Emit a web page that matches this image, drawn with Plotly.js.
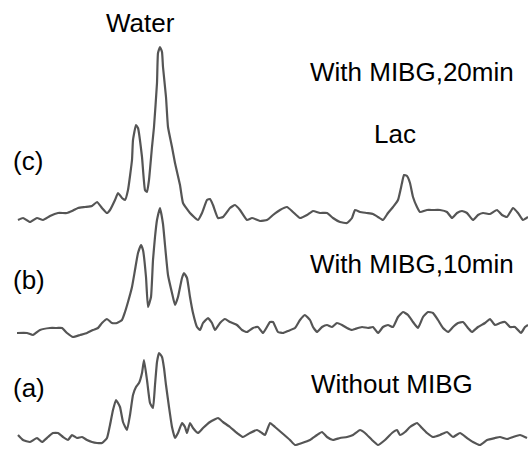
<!DOCTYPE html>
<html>
<head>
<meta charset="utf-8">
<script src="https://cdn.plot.ly/plotly-3.0.1.min.js"></script>
<style>html,body{margin:0;padding:0;background:#fff;}#chart{width:528px;height:450px;}</style>
</head>
<body>
<div id="chart"></div>
<script>
// Spectra: x = horizontal position (a.u.), y = vertical reading (top-down, a.u.)
const xC = [18,23,30,37,43,50,58,67,72,78,85,92,97,102,107,110,115,118,122,125,128,132,133,136,138,142,145,147,149,152,154,157,158,160,162,163,166,168,172,175,180,183,190,198,202,207,210,213,218,223,230,235,240,247,252,260,267,273,280,287,293,300,307,313,320,327,333,340,347,352,355,360,367,373,378,383,388,393,398,402,404,407,410,413,417,420,427,433,440,447,452,457,462,467,473,478,483,490,497,502,507,513,518,523,528];
const yC = [220,218,222,218,220,216,213,213,211,208,207,206,202,208,213,210,200,193,198,200,190,160,140,125,128,157,190,192,180,147,127,83,53,47,52,67,97,127,147,163,185,203,213,220,213,200,199,205,218,217,208,205,210,220,218,221,220,215,210,207,212,218,215,211,213,213,218,222,223,218,210,212,213,214,217,220,213,207,200,183,175,176,183,197,207,212,210,210,210,212,218,213,211,213,220,215,213,214,210,215,217,208,213,220,217];

const xB = [17,27,33,40,50,57,62,67,73,80,87,93,98,102,107,112,117,122,125,128,132,135,138,141,143,146,148,151,153,155,157,160,163,165,168,172,175,178,182,184,187,190,193,197,200,203,208,212,215,220,225,230,237,242,247,253,258,263,270,273,278,283,288,295,300,305,310,313,317,322,327,332,337,342,347,352,355,362,368,373,378,383,388,393,398,403,408,413,418,423,428,433,438,443,448,453,458,463,468,472,478,485,490,495,500,505,510,515,521,525,528];
const yB = [333,333,335,330,328,328,328,333,337,335,333,330,328,323,319,323,323,320,312,302,287,270,253,245,250,277,307,297,260,237,220,208,224,245,275,293,305,297,278,273,278,297,313,327,330,323,318,323,330,323,319,322,325,330,332,328,327,333,322,322,332,333,331,328,320,315,320,327,332,327,325,327,323,325,328,330,329,327,328,327,333,327,325,327,317,312,315,322,328,317,312,313,320,328,332,327,323,322,328,332,327,323,319,325,323,322,327,327,333,327,325];

const xA = [18,23,30,37,42,48,53,58,63,68,72,77,82,87,92,97,102,107,110,113,116,120,123,127,130,133,136,139,142,144,147,150,153,155,157,159,162,164,166,169,172,175,178,182,185,187,190,193,198,203,210,218,223,230,237,243,250,257,262,265,270,275,282,290,295,302,310,317,322,327,333,340,347,353,360,365,372,378,385,392,397,400,405,410,417,422,427,433,440,447,453,460,467,473,480,487,495,500,507,513,520,527];
const yA = [435,440,442,438,442,437,433,433,437,440,435,438,437,440,442,443,443,438,425,410,400,407,422,430,415,395,387,383,373,360,380,403,408,385,362,353,357,368,385,407,427,438,433,423,427,433,423,428,433,428,422,418,422,427,433,437,433,430,433,435,423,427,433,440,445,443,440,435,432,437,440,438,437,435,430,433,440,445,440,433,430,435,432,427,423,428,433,437,435,432,437,433,438,442,445,440,438,437,439,437,435,438];

const lineStyle = {color: '#555555', width: 2.2, shape: 'spline', smoothing: 0.4};
const traces = [
  {x: xC, y: yC, name: '(c) With MIBG,20min'},
  {x: xB, y: yB, name: '(b) With MIBG,10min'},
  {x: xA, y: yA, name: '(a) Without MIBG'}
].map(t => Object.assign(t, {type: 'scatter', mode: 'lines', line: lineStyle, hoverinfo: 'skip'}));

const fnt = {family: 'Liberation Sans, Arial, sans-serif', size: 26, color: '#000'};
function ann(text, x, y) {
  return {text: text, x: x, y: y, xref: 'x', yref: 'y', showarrow: false, xanchor: 'center', yanchor: 'middle', font: fnt};
}
const layout = {
  width: 528, height: 450,
  margin: {l: 0, r: 0, t: 0, b: 0},
  paper_bgcolor: '#fff', plot_bgcolor: '#fff',
  showlegend: false,
  xaxis: {range: [0, 528], visible: false, fixedrange: true},
  yaxis: {range: [450, 0], visible: false, fixedrange: true},
  annotations: [
    ann('Water', 140, 23),
    ann('With MIBG,20min', 412, 72),
    ann('Lac', 395, 134),
    ann('(c)', 28, 161),
    ann('(b)', 29, 280),
    ann('With MIBG,10min', 412, 264),
    ann('(a)', 29, 388),
    ann('Without MIBG', 392, 384)
  ]
};
Plotly.newPlot('chart', traces, layout, {staticPlot: true, displayModeBar: false});
</script>
</body>
</html>
